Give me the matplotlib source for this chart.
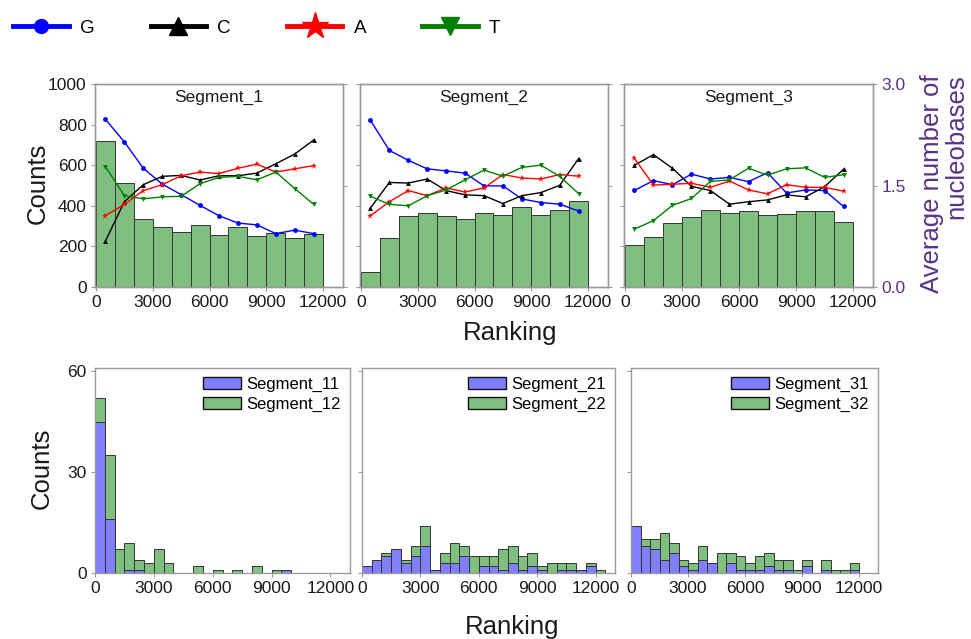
import numpy as np
import matplotlib
matplotlib.use('Agg')
import matplotlib.pyplot as plt
from matplotlib.lines import Line2D
from matplotlib.patches import Patch

plt.rcParams['font.family'] = ['Liberation Sans', 'DejaVu Sans']

# ---------------- data ----------------
ranking_mid = [500, 1500, 2500, 3500, 4500, 5500, 6500, 7500, 8500, 9500, 10500, 11500]
segments_top = ['Segment_1', 'Segment_2', 'Segment_3']

# average number of nucleobases (bars, right axis)
avg_seg1 = [2.16, 1.54, 1.00, 0.89, 0.82, 0.92, 0.77, 0.88, 0.76, 0.80, 0.73, 0.78]
avg_seg2 = [0.22, 0.72, 1.05, 1.09, 1.05, 1.00, 1.10, 1.07, 1.18, 1.07, 1.14, 1.27]
avg_seg3 = [0.62, 0.74, 0.95, 1.03, 1.14, 1.09, 1.13, 1.06, 1.08, 1.12, 1.12, 0.96]

# counts per nucleotide (lines, left axis)
G_seg1 = [826, 715, 585, 507, 455, 402, 351, 315, 306, 263, 280, 263]
C_seg1 = [226, 420, 504, 545, 550, 527, 548, 548, 561, 607, 655, 724]
A_seg1 = [351, 407, 475, 504, 548, 566, 559, 585, 605, 566, 582, 598]
T_seg1 = [593, 450, 434, 444, 447, 509, 540, 545, 528, 566, 485, 407]

G_seg2 = [821, 673, 624, 582, 572, 561, 498, 498, 434, 416, 408, 374]
C_seg2 = [389, 515, 512, 532, 475, 454, 450, 411, 450, 465, 501, 633]
A_seg2 = [351, 420, 475, 450, 488, 468, 488, 554, 537, 532, 554, 546]
T_seg2 = [447, 407, 400, 450, 478, 528, 576, 546, 589, 600, 545, 460]

G_seg3 = [476, 524, 504, 556, 532, 540, 519, 563, 463, 478, 475, 397]
C_seg3 = [600, 652, 585, 496, 475, 408, 420, 429, 454, 444, 494, 580]
A_seg3 = [634, 502, 506, 511, 491, 522, 478, 459, 504, 491, 491, 472]
T_seg3 = [285, 327, 402, 436, 520, 528, 585, 551, 582, 587, 540, 553]

# stacked histograms (bin width 500 ranking units)
bin_width = 500
seg11 = [45, 16, 0, 1, 1, 0, 0, 0, 0, 0, 0, 0, 0, 0, 0, 0, 0, 0, 0, 1, 0, 0, 0, 0]
seg12 = [7, 19, 7, 8, 3, 3, 7, 3, 0, 0, 2, 0, 1, 0, 1, 0, 2, 0, 1, 0, 0, 0, 0, 0]
seg21 = [2, 4, 5, 7, 3, 5, 8, 1, 3, 3, 5, 0, 2, 2, 1, 3, 1, 2, 1, 0, 1, 1, 1, 2, 0]
seg22 = [0, 0, 1, 0, 1, 3, 6, 0, 3, 6, 3, 5, 3, 3, 6, 5, 4, 4, 1, 3, 2, 2, 0, 1, 1]
seg31 = [14, 8, 7, 4, 6, 2, 1, 4, 3, 0, 3, 1, 1, 1, 2, 1, 1, 0, 2, 0, 1, 0, 0, 1]
seg32 = [0, 2, 3, 8, 3, 2, 2, 4, 0, 6, 3, 4, 2, 4, 4, 3, 3, 1, 2, 0, 3, 1, 1, 2]

x_ticks = [0, 3000, 6000, 9000, 12000]

# ---------------- figure ----------------
W, H = 971, 639
fig = plt.figure(figsize=(W / 100, H / 100), dpi=100)


def px(l, t, r, b):
    return [l / W, 1 - b / H, (r - l) / W, (b - t) / H]


SPINE = '#9a9a9a'
TXT = '#1a1a1a'
PURPLE = '#5a3286'
BAR_G = '#7fbf7f'
BAR_B = '#7f7fff'
EDGE = '#333333'
TICK_FS = 12.5


def style(ax):
    for s in ax.spines.values():
        s.set_color(SPINE)
        s.set_linewidth(1.0)
    ax.tick_params(direction='out', length=3, width=0.8, color=SPINE,
                   labelsize=TICK_FS, labelcolor=TXT, pad=3)


top_pos = [px(95, 84, 343, 287), px(360, 84, 608, 287), px(624, 84, 873, 287)]
bot_pos = [px(95, 368, 350, 573), px(362, 368, 615, 573), px(631, 368, 878, 573)]

avg_all = [avg_seg1, avg_seg2, avg_seg3]
lines_all = [
    (G_seg1, C_seg1, A_seg1, T_seg1),
    (G_seg2, C_seg2, A_seg2, T_seg2),
    (G_seg3, C_seg3, A_seg3, T_seg3),
]
line_styles = [('#0000ff', 'o', 3.5), ('#000000', '^', 3.5),
               ('#ff0000', '*', 4.5), ('#008000', 'v', 3.5)]

for i in range(3):
    ax = fig.add_axes(top_pos[i])
    ax2 = ax.twinx()
    ax2.bar(ranking_mid, avg_all[i], width=1000, color=BAR_G,
            edgecolor=EDGE, linewidth=0.7, align='center')
    ax2.set_ylim(0, 3.0)
    ax2.set_yticks([0.0, 1.5, 3.0])
    for series, (c, m, ms) in zip(lines_all[i], line_styles):
        ax.plot(ranking_mid, series, color=c, marker=m, markersize=ms,
                linewidth=1.0, markeredgewidth=0)
    ax.set_zorder(ax2.get_zorder() + 1)
    ax.patch.set_visible(False)
    ax.set_xlim(-50, 13050)
    ax.set_ylim(0, 1000)
    ax.set_xticks(x_ticks)
    ax.set_yticks([0, 200, 400, 600, 800, 1000])
    style(ax)
    style(ax2)
    if i != 0:
        ax.set_yticklabels([])
    if i == 2:
        ax2.tick_params(labelcolor=PURPLE)
        ax2.set_yticklabels(['0.0', '1.5', '3.0'])
    else:
        ax2.set_yticklabels([])
    ax.text(0.5, 0.936, segments_top[i], transform=ax.transAxes,
            ha='center', va='center', fontsize=12.5, color=TXT)

bot_data = [(seg11, seg12, 'Segment_11', 'Segment_12'),
            (seg21, seg22, 'Segment_21', 'Segment_22'),
            (seg31, seg32, 'Segment_31', 'Segment_32')]

for i in range(3):
    ax = fig.add_axes(bot_pos[i])
    b, g, lb, lg = bot_data[i]
    left = np.arange(len(b)) * bin_width
    ax.bar(left, b, width=bin_width, align='edge', color=BAR_B,
           edgecolor=EDGE, linewidth=0.7, label=lb)
    ax.bar(left, g, width=bin_width, align='edge', bottom=b, color=BAR_G,
           edgecolor=EDGE, linewidth=0.7, label=lg)
    ax.set_xlim(0, 13000)
    ax.set_ylim(0, 61)
    ax.set_xticks(x_ticks)
    ax.set_yticks([0, 30, 60])
    style(ax)
    if i > 0:
        ax.set_yticklabels([])
    handles = [Patch(facecolor=BAR_B, edgecolor='#111111', linewidth=1.0),
               Patch(facecolor=BAR_G, edgecolor='#111111', linewidth=1.0)]
    ax.legend(handles, [lb, lg], loc='upper right', frameon=False,
              fontsize=12, handlelength=2.3, handleheight=0.75,
              handletextpad=0.3, labelspacing=0.25, borderaxespad=0.15)

# axis labels
fig.text(38 / W, 1 - 183 / H, 'Counts', rotation=90, ha='center', va='center',
         fontsize=18.5, color=TXT)
fig.text(42 / W, 1 - 468 / H, 'Counts', rotation=90, ha='center', va='center',
         fontsize=18.5, color=TXT)
fig.text(510 / W, 1 - 333 / H, 'Ranking', ha='center', va='center',
         fontsize=18.5, color=TXT)
fig.text(512 / W, 1 - 627 / H, 'Ranking', ha='center', va='center',
         fontsize=18.5, color=TXT)
fig.text(944 / W, 1 - 74 / H, 'Average number of\nnucleobases', rotation=90,
         ha='center', va='top', multialignment='right', fontsize=18.5,
         color=PURPLE, linespacing=1.05)

# top legend
leg_handles = [
    Line2D([], [], color='#0000ff', marker='o', markersize=10, linewidth=3.5),
    Line2D([], [], color='#000000', marker='^', markersize=13, linewidth=3.5),
    Line2D([], [], color='#ff0000', marker='*', markersize=20, linewidth=3.5),
    Line2D([], [], color='#008000', marker='v', markersize=13, linewidth=3.5),
]
fig.legend(leg_handles, ['G', 'C', 'A', 'T'], loc='center left',
           bbox_to_anchor=(0.006, 1 - 28 / H), ncol=4, frameon=False,
           fontsize=13.5, handlelength=2.95, handletextpad=0.6,
           columnspacing=3.0, borderaxespad=0)

fig.savefig('out.png', dpi=100)
